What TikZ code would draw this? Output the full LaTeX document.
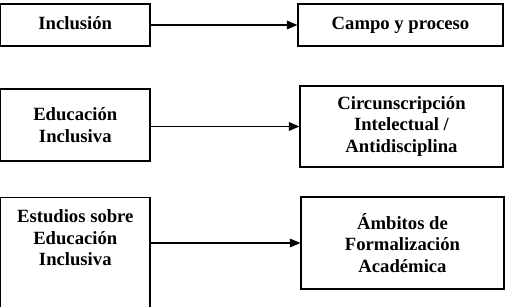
\documentclass[tikz,border=0pt]{standalone}
\usepackage{fontspec}
\setmainfont{Liberation Serif}
\usetikzlibrary{arrows.meta,positioning,calc}

\tikzset{
  texto/.style={align=center, font=\bfseries\fontsize{14}{16.1}\selectfont, inner sep=0pt},
  caja/.style={texto, draw, line width=0.8pt},
  flecha/.style={-{Triangle[length=8pt,width=6.5pt]}, line width=1pt},
}

\begin{document}
\begin{tikzpicture}[x=0.75pt, y=-0.75pt]
  \useasboundingbox (0,0) rectangle (522,307);
  \clip (0,0) rectangle (522,307);

  % columna izquierda
  \node[caja, minimum width=112pt, minimum height=31.5pt] (inclusion) at (75.3,25) {Inclusión\strut};
  \node[caja, minimum width=112pt, minimum height=54pt] (educacion) at (75.3,125) {Educación\\Inclusiva};
  \node[caja, minimum width=112pt, minimum height=112.5pt, anchor=north] (estudios) at (75.3,197) {};
  \node[texto] (estudiostxt) at (75.3,238) {Estudios sobre\\Educación\\Inclusiva};

  % columna derecha
  \node[caja, minimum width=153.75pt, minimum height=31.5pt] (campo) at (400.5,25) {Campo y proceso\strut};
  \node[caja, minimum width=152.25pt, minimum height=60.75pt] (circ) at (401.5,126.5) {Circunscripción\\Intelectual /\\Antidisciplina};
  \node[caja, minimum width=152.25pt, minimum height=69pt] (ambitos) at (402.5,243) {Ámbitos de\\Formalización\\Académica};

  \draw[flecha] (inclusion) -- (campo);
  \draw[flecha] (educacion.east |- circ.west) -- (circ.west);
  \draw[flecha] (estudios.east |- ambitos.west) -- (ambitos.west);
\end{tikzpicture}
\end{document}
